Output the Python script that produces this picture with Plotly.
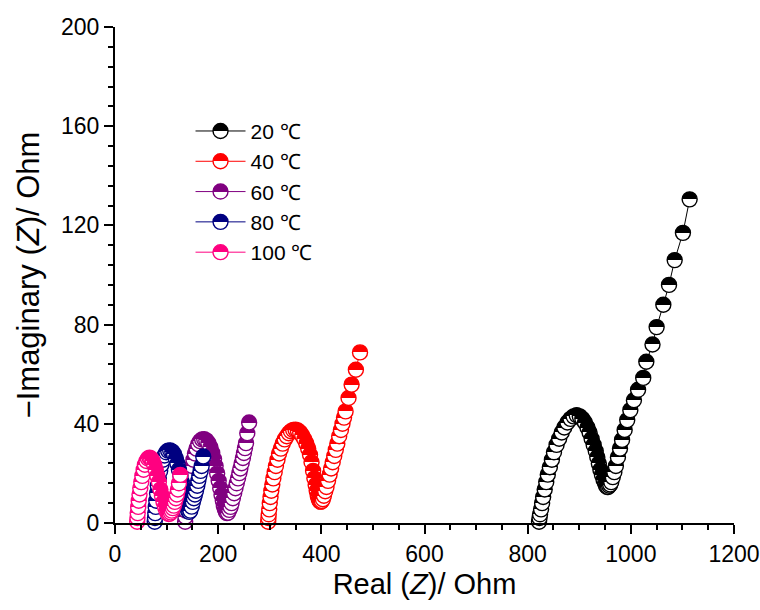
import plotly.graph_objects as go

# ---- data ----
labels = ["20 ℃", "40 ℃", "60 ℃", "80 ℃", "100 ℃"]
colors = ["#000000", "#FF0000", "#800080", "#000080", "#FF0080"]

x20 = [822, 823, 824, 826, 828, 830, 833, 836, 839, 843, 847, 851, 856, 861, 866, 871, 877, 883, 889, 895,
       901, 906, 911, 916, 920, 924, 928, 932, 935, 938, 941, 944, 947, 950, 952, 954, 956, 958, 960, 962,
       965, 968, 971, 975, 979, 983, 988, 993, 999, 1006, 1014, 1024, 1030, 1042, 1050, 1063, 1074, 1085, 1101, 1114]
y20 = [0.5, 2, 3.5, 5.5, 8, 10.5, 13.5, 16.5, 19.5, 22.5, 25.5, 28.5, 31.5, 34, 36.5, 38.5, 40.5, 42, 43, 43.5,
       43, 42, 40.5, 38.5, 36.5, 34, 31.5, 29, 26.5, 24, 21.5, 19.5, 17.5, 16, 15, 14.5, 14.5, 15, 15.5, 16.5,
       18.5, 20.5, 23, 26.5, 30, 33.5, 37.5, 41.5, 45.5, 49.5, 53.7, 58.5, 65, 72, 79, 88, 96, 106, 117, 130.5]

x40 = [297, 297.5, 298, 299, 300, 301.5, 303, 305, 307, 309.5, 312, 315, 318, 321.5, 325, 329, 333, 337, 341, 345.5,
       350, 354.5, 359, 363, 367, 371, 374.5, 378, 381, 384, 386.5, 389, 391, 393, 395, 396.5, 398, 399.5, 401, 403,
       405, 407.5, 410, 413, 416, 419, 422, 425, 428, 431, 434.6, 438, 441, 444, 447, 452.7, 458.7, 467, 475]
y40 = [0.5, 2, 3.5, 5.5, 8, 10.5, 13, 15.5, 18, 20.5, 23, 25.5, 28, 30, 32, 33.7, 35, 36.2, 37, 37.5,
       37.6, 37.3, 36.5, 35.3, 33.8, 32, 30, 27.5, 24.5, 21, 18, 15.3, 13, 11, 9.6, 9, 8.6, 8.6, 8.9, 9.6,
       11, 12.8, 14.5, 17, 19.5, 22, 24.5, 27, 29.5, 32, 35, 37.5, 40, 42.5, 45, 50.4, 55.8, 61.8, 68.8]

x60 = [136, 136.5, 137.5, 139, 140.5, 142.5, 144.5, 147, 149.5, 152, 155, 158, 161.5, 165, 169, 173, 177, 181, 185, 188.5,
       192, 195, 198, 201, 204, 206.5, 209, 211, 213, 215, 217, 219, 221.5, 224, 226, 228.5, 231, 233.5, 236, 238.5,
       241, 243, 245.5, 248, 250, 252, 254, 256.4, 260]
y60 = [0.5, 2.5, 5, 8, 11, 14, 17, 20, 23, 25.5, 28, 30, 31.8, 33, 33.7, 33.8, 33.3, 32.2, 30.5, 28.3,
       25.8, 23, 20, 17, 14, 11.3, 9, 7, 5.5, 4.5, 4, 4.2, 5.3, 6.5, 8, 10, 12, 14, 16, 18,
       20.1, 22, 24.1, 26.2, 28.2, 30.2, 32.2, 36.2, 40.5]

x80 = [77, 77.5, 78, 79, 80, 81.5, 83, 85, 87.5, 90, 93, 96, 99.5, 103, 107, 111, 114.5, 118, 121, 124,
       127, 129.5, 132, 134, 136, 138, 140, 142, 144, 146, 148.6, 151, 153, 155, 157, 159.5, 161.5, 163.4, 166, 168, 171]
y80 = [0.5, 2, 4, 6.5, 9, 12, 15, 18, 21, 23.5, 25.5, 27.2, 28.5, 29.2, 29.3, 28.8, 27.8, 26, 24, 21.5,
       19, 16.5, 14, 11.5, 9.5, 7.5, 6, 4.8, 4.5, 5, 6.6, 8.5, 10, 11.5, 13, 15, 17, 19, 21, 23, 26.8]

x100 = [43, 43.5, 44, 45, 46, 47.5, 49, 51, 53, 55.5, 58, 61, 64, 67, 70, 73, 76, 79, 82, 85,
        88, 91, 94, 97, 99.5, 102, 104, 106, 108, 110, 112, 114, 116, 118, 120, 122, 124, 126.5]
y100 = [0.5, 2, 4, 6.5, 9, 11.5, 14, 16.5, 19, 21.5, 23.5, 25, 26, 26.3, 26, 25, 23.5, 21.5, 19, 16.5,
        13.5, 11, 8.5, 6.5, 5, 4, 3.6, 3.8, 4.3, 5, 6, 7, 8.5, 10, 11.5, 13.5, 16, 19.4]

xs = [x20, x40, x60, x80, x100]
ys = [y20, y40, y60, y80, y100]

x_range = [0, 1200]
y_range = [0, 200]
x_ticks = [0, 200, 400, 600, 800, 1000, 1200]
y_ticks = [0, 40, 80, 120, 160, 200]

FONT = "Liberation Sans, Arial, sans-serif"

fig = go.Figure()
for xv, yv, lab, col in zip(xs, ys, labels, colors):
    fig.add_trace(go.Scatter(
        x=xv, y=yv, name=lab, mode="lines+markers",
        line=dict(color=col, width=1),
        marker=dict(symbol="circle", size=15, color=col,
                    gradient=dict(type="vertical", color="white"),
                    line=dict(color=col, width=1.4)),
        cliponaxis=False,
    ))

axis_common = dict(showgrid=False, zeroline=False, showline=True, linecolor="black", linewidth=2,
                   ticks="outside", tickcolor="black", tickwidth=2, ticklabeloverflow="allow",
                   automargin=False,
                   tickfont=dict(family=FONT, size=23, color="black"))

fig.update_layout(
    width=760, height=610,
    margin=dict(l=115, r=26, t=27, b=87, autoexpand=False),
    paper_bgcolor="white", plot_bgcolor="white",
    font=dict(family=FONT, color="black"),
    showlegend=True,
    legend=dict(x=0.122, y=0.831, xanchor="left", yanchor="top", itemwidth=50,
                bgcolor="rgba(0,0,0,0)", font=dict(family=FONT, size=21, color="black"),
                tracegroupgap=0),
    xaxis=dict(range=x_range, tickvals=x_ticks, ticklen=9,
               minor=dict(dtick=50, ticks="outside", ticklen=5, tickwidth=1.5, tickcolor="black"),
               title=dict(text="Real (<i>Z</i>)/ Ohm", font=dict(family=FONT, size=29, color="black"), standoff=8),
               **axis_common),
    yaxis=dict(range=y_range, tickvals=y_ticks, ticklen=9,
               minor=dict(dtick=8, ticks="outside", ticklen=5, tickwidth=1.5, tickcolor="black"),
               title=dict(text="−Imaginary (<i>Z</i>)/ Ohm", font=dict(family=FONT, size=31, color="black"), standoff=12),
               **axis_common),
    xaxis2=dict(overlaying="x", side="top", range=x_range, dtick=120, tick0=0, ticks="inside", ticklen=5,
                tickwidth=1.5, tickcolor="black", showticklabels=False, showline=True, linecolor="black",
                linewidth=2, showgrid=False, zeroline=False, anchor="y"),
    yaxis2=dict(overlaying="y", side="right", range=y_range, showticklabels=False, ticks="",
                showline=True, linecolor="black", linewidth=2, showgrid=False, zeroline=False, anchor="x"),
)

post = """
document.querySelectorAll('linearGradient').forEach(function(g){
  var s = g.querySelectorAll('stop');
  if(s.length === 2){
    var a = s[0].cloneNode(true), b = s[1].cloneNode(true);
    a.setAttribute('offset', '50%'); b.setAttribute('offset', '50%');
    g.insertBefore(a, s[1]); g.insertBefore(b, s[1]);
  }
});
"""
fig.write_html("out.html", post_script=post)
